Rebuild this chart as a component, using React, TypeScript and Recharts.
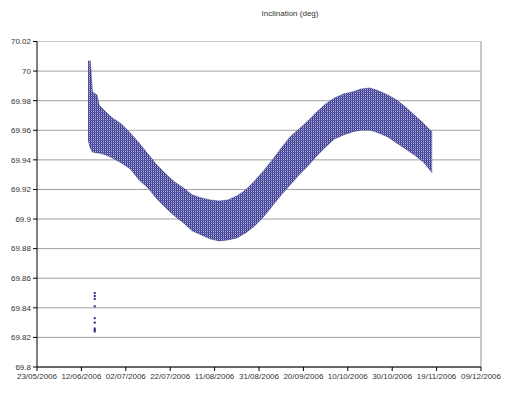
import React from "react";
import {
  ComposedChart,
  Area,
  Scatter,
  XAxis,
  YAxis,
  CartesianGrid,
  ReferenceLine,
} from "recharts";

// Days counted from 23/05/2006
const DAYS = [23, 24, 25, 27, 28, 31, 34, 38, 42, 46, 50, 54, 58, 62, 66, 70, 74, 78, 82, 86, 90, 94, 98, 102, 106, 110, 114, 118, 122, 126, 130, 134, 138, 142, 146, 150, 154, 158, 162, 166, 170, 174, 177, 178];
const HIGH = [70.0068, 70.0068, 69.9859, 69.9839, 69.9771, 69.9724, 69.9683, 69.9643, 69.9582, 69.9514, 69.944, 69.9366, 69.9305, 69.9251, 69.921, 69.9163, 69.9143, 69.9129, 69.9122, 69.9129, 69.9156, 69.9197, 69.9257, 69.9325, 69.9399, 69.948, 69.9555, 69.9609, 69.9663, 69.9724, 69.9778, 69.9818, 69.9845, 69.9859, 69.9879, 69.9886, 69.9866, 69.9839, 69.9805, 69.9757, 69.9703, 69.9649, 69.9602, 69.9589];
const LOW = [69.9534, 69.948, 69.9453, 69.9447, 69.9447, 69.9433, 69.9413, 69.9379, 69.9339, 69.9264, 69.921, 69.9136, 69.9075, 69.9021, 69.8974, 69.892, 69.8893, 69.8866, 69.8852, 69.8859, 69.8872, 69.8906, 69.8953, 69.9014, 69.9088, 69.9163, 69.923, 69.9298, 69.9359, 69.9426, 69.9487, 69.9541, 69.9568, 69.9589, 69.9602, 69.9602, 69.9582, 69.9555, 69.9514, 69.9474, 69.9433, 69.9386, 69.9332, 69.9311];

const OUTLIER_DAY = 26;
const OUTLIER_VALUES = [69.85, 69.848, 69.846, 69.841, 69.833, 69.83, 69.826, 69.825, 69.824];

const X_TICKS = [0, 20, 40, 60, 80, 100, 120, 140, 160, 180, 200];
const X_LABELS = ["23/05/2006", "12/06/2006", "02/07/2006", "22/07/2006", "11/08/2006", "31/08/2006", "20/09/2006", "10/10/2006", "30/10/2006", "19/11/2006", "09/12/2006"];
const Y_TICKS = [69.8, 69.82, 69.84, 69.86, 69.88, 69.9, 69.92, 69.94, 69.96, 69.98, 70, 70.02];

const TITLE = "Inclination (deg)";

const bandData = DAYS.map((d, i) => ({ day: d, range: [LOW[i], HIGH[i]] }));
const outlierData = OUTLIER_VALUES.map((v) => ({ day: OUTLIER_DAY, value: v }));

const FONT = "'Liberation Sans', Arial, sans-serif";

const Dot = (props: any) => {
  const { cx, cy } = props;
  if (cx == null || cy == null) return null;
  return <rect x={cx - 1} y={cy - 1} width={2} height={2} fill="#2a2a80" />;
};

export default function App() {
  return (
    <div style={{ position: "absolute", left: 0, top: 0, width: 523, height: 399, background: "#fff", fontFamily: FONT }}>
      <div style={{ position: "absolute", left: 0, width: 580, top: 9, textAlign: "center", fontSize: 8, color: "#333" }}>
        {TITLE}
      </div>
      <ComposedChart
        width={523}
        height={399}
        data={bandData}
        margin={{ top: 41.5, right: 42, bottom: 12, left: 0 }}
      >
        <defs>
          <pattern id="dots" width="2" height="2" patternUnits="userSpaceOnUse">
            <rect x="0" y="0" width="2" height="2" fill="#b8b8dc" />
            <rect x="0" y="0" width="1" height="2" fill="#34348a" />
            <rect x="0" y="0" width="2" height="1" fill="#5656a6" />
          </pattern>
        </defs>
        <CartesianGrid vertical={false} stroke="#a0a0a0" strokeWidth={1} horizontalValues={Y_TICKS} />
        <XAxis
          dataKey="day"
          type="number"
          domain={[0, 200]}
          ticks={X_TICKS}
          interval={0}
          height={20}
          tickFormatter={(v: number) => X_LABELS[X_TICKS.indexOf(v)] ?? ""}
          tick={{ fontSize: 8, fill: "#333", fontFamily: FONT }}
          tickLine={{ stroke: "#000" }}
          tickSize={4}
          axisLine={{ stroke: "#000" }}
          allowDataOverflow
        />
        <YAxis
          type="number"
          domain={[69.8, 70.02]}
          ticks={Y_TICKS}
          interval={0}
          width={37}
          tickFormatter={(v: number) => String(Number(v.toFixed(2)))}
          tick={{ fontSize: 8, fill: "#333", fontFamily: FONT }}
          tickLine={{ stroke: "#000" }}
          tickSize={4}
          axisLine={{ stroke: "#000" }}
          allowDataOverflow
        />
        <ReferenceLine y={70.02} stroke="#c8c8c8" />
        <ReferenceLine x={200} stroke="#c8c8c8" strokeWidth={2} />
        <Area
          type="linear"
          dataKey="range"
          stroke="#3a3a8c"
          strokeWidth={0.5}
          fill="url(#dots)"
          fillOpacity={1}
          isAnimationActive={false}
          dot={false}
          activeDot={false}
        />
        <Scatter data={outlierData} dataKey="value" shape={<Dot />} isAnimationActive={false} />
      </ComposedChart>
    </div>
  );
}
